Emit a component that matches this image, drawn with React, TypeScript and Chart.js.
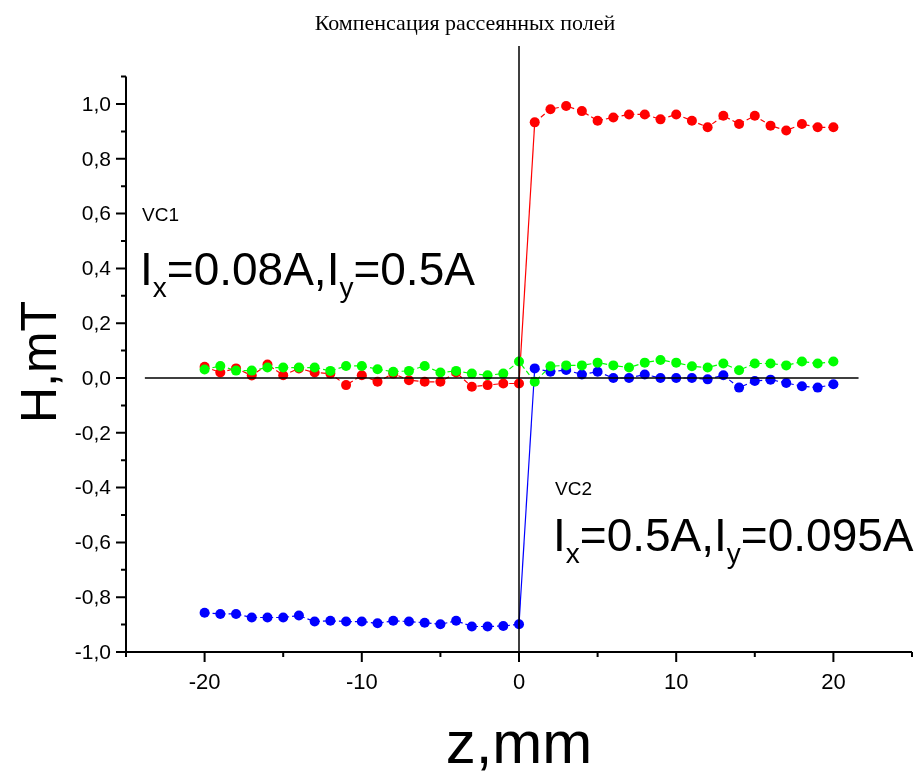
import { useEffect, useRef } from 'react';
import { Chart, registerables } from 'chart.js';

Chart.register(...registerables);

const zPositions = [-20, -19, -18, -17, -16, -15, -14, -13, -12, -11, -10, -9, -8, -7, -6, -5, -4, -3, -2, -1, 0, 1, 2, 3, 4, 5, 6, 7, 8, 9, 10, 11, 12, 13, 14, 15, 16, 17, 18, 19, 20];

const redH = [0.041, 0.02, 0.035, 0.009, 0.049, 0.01, 0.035, 0.02, 0.016, -0.026, 0.01, -0.014, 0.016, -0.008, -0.014, -0.014, 0.02, -0.032, -0.026, -0.02, -0.02, 0.933, 0.981, 0.993, 0.974, 0.939, 0.951, 0.962, 0.962, 0.944, 0.962, 0.939, 0.915, 0.957, 0.927, 0.957, 0.921, 0.903, 0.927, 0.915, 0.915];

const greenH = [0.031, 0.044, 0.027, 0.027, 0.038, 0.038, 0.038, 0.038, 0.026, 0.044, 0.044, 0.032, 0.023, 0.026, 0.044, 0.02, 0.026, 0.016, 0.01, 0.016, 0.06, -0.014, 0.043, 0.046, 0.046, 0.056, 0.046, 0.038, 0.056, 0.066, 0.056, 0.043, 0.038, 0.053, 0.028, 0.053, 0.053, 0.046, 0.06, 0.053, 0.06];

const blueH = [-0.857, -0.861, -0.861, -0.874, -0.874, -0.874, -0.867, -0.889, -0.886, -0.889, -0.889, -0.895, -0.886, -0.889, -0.893, -0.899, -0.886, -0.907, -0.907, -0.905, -0.899, 0.035, 0.023, 0.029, 0.013, 0.023, 0, 0, 0.013, 0, 0, 0, -0.005, 0.01, -0.035, -0.011, -0.006, -0.018, -0.03, -0.035, -0.023];

const yMajorTicks = [-1.0, -0.8, -0.6, -0.4, -0.2, 0.0, 0.2, 0.4, 0.6, 0.8, 1.0];
const yMinorTicks = [-0.9, -0.7, -0.5, -0.3, -0.1, 0.1, 0.3, 0.5, 0.7, 0.9, 1.1];
const xMajorTicks = [-20, -10, 0, 10, 20];
const xMinorTicks = [-25, -15, -5, 5, 15, 25];

const titleText = 'Компенсация рассеянных полей';
const xTitle = 'z,mm';
const yTitle = 'H,mT';
const vc1Label = 'VC1';
const vc2Label = 'VC2';
const vc1Parts = [
  { t: 'I' }, { t: 'x', sub: true }, { t: '=0.08A,I' }, { t: 'y', sub: true }, { t: '=0.5A' },
];
const vc2Parts = [
  { t: 'I' }, { t: 'x', sub: true }, { t: '=0.5A,I' }, { t: 'y', sub: true }, { t: '=0.095A' },
];

const SANS = '"Liberation Sans", Arial, sans-serif';

function drawSubText(ctx: CanvasRenderingContext2D, x: number, y: number, parts: { t: string; sub?: boolean }[], size: number) {
  let cx = x;
  ctx.textAlign = 'left';
  ctx.textBaseline = 'alphabetic';
  for (const p of parts) {
    if (p.sub) {
      ctx.font = `${Math.round(size * 0.6)}px ${SANS}`;
      ctx.fillText(p.t, cx, y + size * 0.27);
      cx += ctx.measureText(p.t).width;
    } else {
      ctx.font = `${size}px ${SANS}`;
      ctx.fillText(p.t, cx, y);
      cx += ctx.measureText(p.t).width;
    }
  }
}

export default function App() {
  const ref = useRef<HTMLCanvasElement>(null);

  useEffect(() => {
    document.body.style.margin = '0';
    const canvas = ref.current!;

    const originAxes = {
      id: 'originAxes',
      afterDatasetsDraw(chart: any) {
        const ctx: CanvasRenderingContext2D = chart.ctx;
        const xs = chart.scales.x;
        const ys = chart.scales.y;
        const left = xs.getPixelForValue(-25);
        const right = xs.getPixelForValue(25);
        const bottom = ys.getPixelForValue(-1);
        const top = ys.getPixelForValue(1.1);
        ctx.save();
        ctx.strokeStyle = '#000';
        ctx.fillStyle = '#000';

        // reference lines
        ctx.lineWidth = 1.5;
        ctx.beginPath();
        ctx.moveTo(xs.getPixelForValue(-23.8), ys.getPixelForValue(0));
        ctx.lineTo(xs.getPixelForValue(21.6), ys.getPixelForValue(0));
        ctx.moveTo(xs.getPixelForValue(0), ys.getPixelForValue(1.212));
        ctx.lineTo(xs.getPixelForValue(0), bottom);
        ctx.stroke();

        // axes
        ctx.lineWidth = 2;
        ctx.beginPath();
        ctx.moveTo(left, top);
        ctx.lineTo(left, bottom);
        ctx.lineTo(right, bottom);
        ctx.stroke();

        ctx.lineWidth = 2;
        ctx.beginPath();
        for (const v of yMajorTicks) {
          const py = ys.getPixelForValue(v);
          ctx.moveTo(left - 10, py);
          ctx.lineTo(left, py);
        }
        for (const v of yMinorTicks) {
          const py = ys.getPixelForValue(v);
          ctx.moveTo(left - 5, py);
          ctx.lineTo(left, py);
        }
        for (const v of xMajorTicks) {
          const px = xs.getPixelForValue(v);
          ctx.moveTo(px, bottom);
          ctx.lineTo(px, bottom + 10);
        }
        for (const v of xMinorTicks) {
          const px = xs.getPixelForValue(v);
          ctx.moveTo(px, bottom);
          ctx.lineTo(px, bottom + 5);
        }
        ctx.stroke();

        // tick labels
        ctx.font = `21px ${SANS}`;
        ctx.textAlign = 'right';
        ctx.textBaseline = 'middle';
        for (const v of yMajorTicks) {
          ctx.fillText(v.toFixed(1).replace('.', ','), left - 15, ys.getPixelForValue(v) + 1);
        }
        ctx.font = `22px ${SANS}`;
        ctx.textAlign = 'center';
        ctx.textBaseline = 'top';
        for (const v of xMajorTicks) {
          ctx.fillText(String(v), xs.getPixelForValue(v), bottom + 20);
        }

        // axis titles
        ctx.font = `60px ${SANS}`;
        ctx.textAlign = 'center';
        ctx.textBaseline = 'alphabetic';
        ctx.fillText(xTitle, (left + right) / 2, 763);
        ctx.save();
        ctx.translate(56, 362);
        ctx.rotate(-Math.PI / 2);
        ctx.font = `50px ${SANS}`;
        ctx.fillText(yTitle, 0, 0);
        ctx.restore();

        // title
        ctx.font = '22px "Liberation Serif", "Times New Roman", serif';
        ctx.textAlign = 'center';
        ctx.textBaseline = 'alphabetic';
        ctx.fillText(titleText, 465, 30);

        // annotations
        ctx.font = `19px ${SANS}`;
        ctx.textAlign = 'left';
        ctx.fillText(vc1Label, 142, 221);
        ctx.fillText(vc2Label, 555, 495);
        drawSubText(ctx, 140, 285, vc1Parts, 46);
        drawSubText(ctx, 553, 551, vc2Parts, 46);

        ctx.restore();
      },
    };

    const mk = (label: string, values: number[], color: string) => ({
      label,
      data: zPositions.map((z, i) => ({ x: z, y: values[i] })),
      showLine: true,
      borderColor: color,
      backgroundColor: color,
      pointBackgroundColor: color,
      pointBorderWidth: 0,
      pointRadius: 5,
      borderWidth: 1.2,
      borderDash: [5, 3],
      segment: {
        borderDash: (c: any) => (Math.hypot(c.p1.x - c.p0.x, c.p1.y - c.p0.y) > 60 ? [] : [5, 3]),
      },
      tension: 0,
    });

    const chart = new Chart(canvas, {
      type: 'scatter',
      data: {
        datasets: [
          mk('green', greenH, '#00ff00'),
          mk('blue', blueH, '#0000ff'),
          mk('red', redH, '#ff0000'),
        ],
      },
      options: {
        animation: false,
        responsive: false,
        layout: { padding: { left: 126, right: 12, top: 76.6, bottom: 121 } },
        scales: {
          x: { type: 'linear', min: -25, max: 25, display: false },
          y: { type: 'linear', min: -1, max: 1.1, display: false },
        },
        plugins: {
          legend: { display: false },
          tooltip: { enabled: false },
          title: { display: false },
        },
      },
      plugins: [originAxes],
    } as any);

    return () => chart.destroy();
  }, []);

  return (
    <div style={{ width: 924, height: 773, background: '#fff' }}>
      <canvas ref={ref} width={924} height={773} style={{ display: 'block' }} />
    </div>
  );
}
